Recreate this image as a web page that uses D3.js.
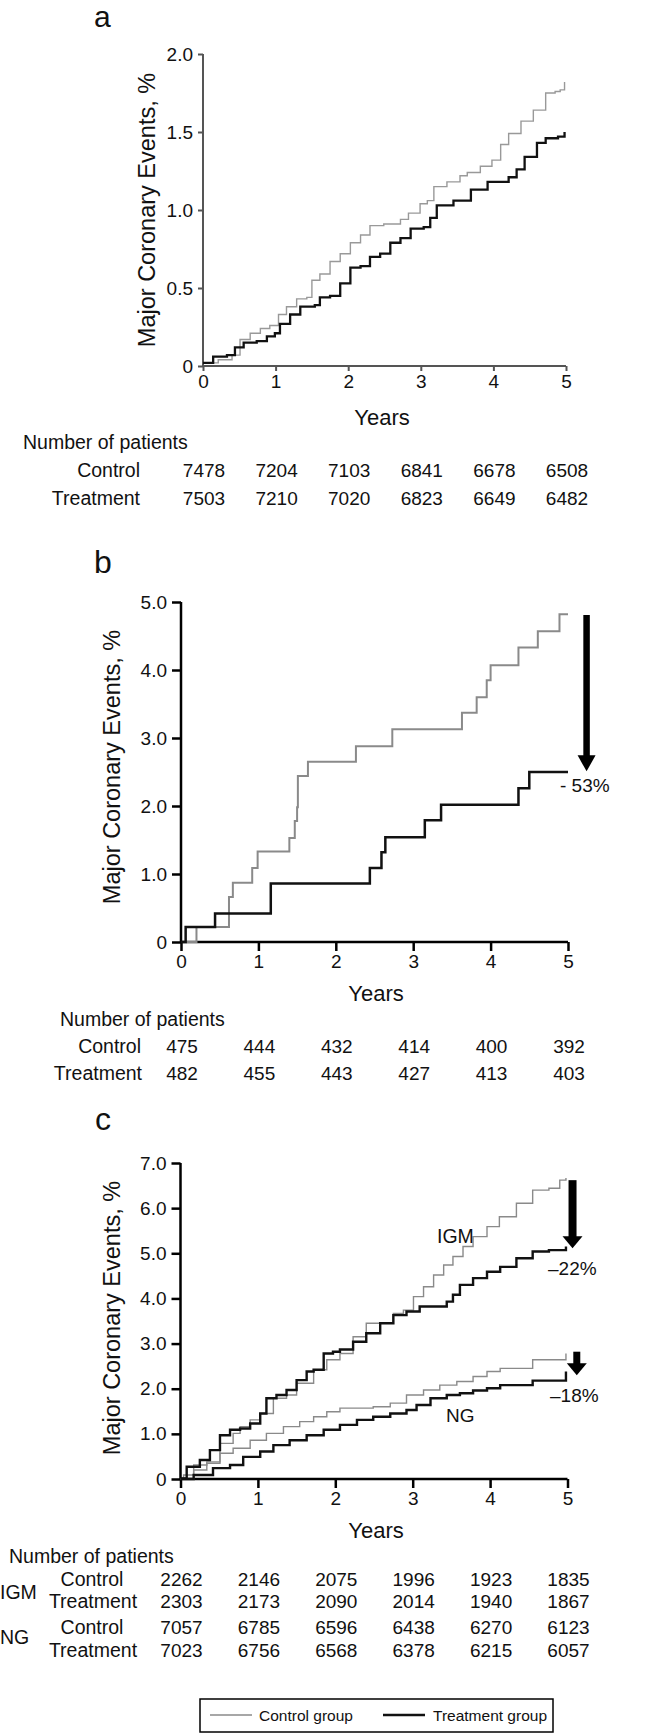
<!DOCTYPE html>
<html>
<head>
<meta charset="utf-8">
<script src="https://cdn.jsdelivr.net/npm/d3@7"></script>
<style>
  html, body { margin: 0; padding: 0; background: #fff; }
  svg { display: block; }
  text { font-family: "Liberation Sans", Arial, sans-serif; fill: #111; }
</style>
</head>
<body>
<svg id="chart" width="646" height="1735"></svg>
<script>
// ---------------- DATA ----------------
const yearTicks = [0, 1, 2, 3, 4, 5];

// Panel a
const aYTicks = [0, 0.5, 1.0, 1.5, 2.0];
const aControl = [[0,0.02],[0.21,0.04],[0.4,0.07],[0.51,0.17],[0.65,0.21],[0.79,0.24],[0.92,0.26],[1.04,0.33],[1.15,0.38],[1.29,0.43],[1.43,0.44],[1.5,0.55],[1.61,0.59],[1.75,0.67],[1.89,0.72],[2.03,0.79],[2.17,0.84],[2.3,0.9],[2.49,0.91],[2.72,0.94],[2.83,0.98],[2.99,1.04],[3.09,1.06],[3.18,1.15],[3.36,1.18],[3.54,1.22],[3.64,1.24],[3.82,1.28],[3.98,1.32],[4.1,1.42],[4.21,1.49],[4.38,1.57],[4.55,1.64],[4.72,1.75],[4.85,1.76],[4.92,1.77],[4.98,1.82]];
const aTreat = [[0,0.02],[0.14,0.06],[0.33,0.07],[0.44,0.12],[0.56,0.15],[0.74,0.16],[0.88,0.19],[0.99,0.21],[1.06,0.27],[1.2,0.33],[1.34,0.38],[1.54,0.39],[1.61,0.44],[1.75,0.45],[1.89,0.53],[2.03,0.63],[2.17,0.64],[2.3,0.7],[2.44,0.72],[2.58,0.79],[2.72,0.82],[2.86,0.88],[3.04,0.89],[3.13,0.95],[3.22,1.03],[3.36,1.03],[3.45,1.06],[3.52,1.06],[3.69,1.13],[3.92,1.18],[4.21,1.21],[4.32,1.26],[4.43,1.34],[4.6,1.43],[4.72,1.46],[4.89,1.47],[4.98,1.5]];
const aPatientsControl = [7478, 7204, 7103, 6841, 6678, 6508];
const aPatientsTreat = [7503, 7210, 7020, 6823, 6649, 6482];

// Panel b
const bYTicks = [0, 1, 2, 3, 4, 5];
const bControl = [[0,0],[0.2,0.22],[0.62,0.66],[0.67,0.87],[0.92,1.09],[0.99,1.33],[1.40,1.53],[1.47,1.78],[1.50,1.98],[1.51,2.44],[1.64,2.65],[2.26,2.88],[2.73,3.13],[3.63,3.37],[3.82,3.60],[3.95,3.85],[4.0,4.07],[4.36,4.33],[4.61,4.57],[4.89,4.82],[5.0,4.82]];
const bTreat = [[0,0],[0.06,0.22],[0.44,0.42],[1.16,0.86],[2.44,1.09],[2.59,1.32],[2.64,1.54],[3.15,1.79],[3.36,2.02],[4.36,2.26],[4.50,2.50],[5.0,2.50]];
const bPatientsControl = [475, 444, 432, 414, 400, 392];
const bPatientsTreat = [482, 455, 443, 427, 413, 403];
const bReduction = "- 53%";

// Panel c
const cYTicks = [0, 1, 2, 3, 4, 5, 6, 7];
const cIgmControl = [[0,0],[0.04,0.09],[0.17,0.31],[0.34,0.38],[0.51,0.79],[0.68,1.01],[0.77,1.16],[0.9,1.31],[1.03,1.45],[1.2,1.79],[1.37,1.86],[1.5,2.12],[1.72,2.42],[1.89,2.64],[2.06,2.78],[2.23,3.15],[2.4,3.45],[2.58,3.45],[2.75,3.67],[2.88,3.74],[3.01,4.04],[3.14,4.26],[3.27,4.52],[3.4,4.74],[3.52,4.93],[3.65,5.15],[3.78,5.37],[3.96,5.59],[4.12,5.81],[4.34,6.11],[4.55,6.40],[4.76,6.44],[4.9,6.62],[4.98,6.67]];
const cIgmTreat = [[0,0.01],[0.08,0.27],[0.25,0.42],[0.38,0.64],[0.51,0.97],[0.64,1.09],[0.77,1.12],[0.9,1.23],[1.03,1.45],[1.11,1.79],[1.24,1.86],[1.37,1.97],[1.5,2.19],[1.63,2.38],[1.72,2.42],[1.85,2.78],[1.97,2.82],[2.06,2.87],[2.23,3.04],[2.4,3.23],[2.58,3.45],[2.75,3.63],[2.92,3.71],[3.09,3.82],[3.27,3.82],[3.44,3.93],[3.52,4.08],[3.61,4.3],[3.78,4.45],[3.96,4.59],[4.13,4.7],[4.34,4.89],[4.55,5.04],[4.76,5.07],[4.98,5.15]];
const cNgControl = [[0,0],[0.17,0.2],[0.34,0.35],[0.51,0.57],[0.68,0.68],[0.9,0.86],[1.11,1.01],[1.33,1.16],[1.54,1.27],[1.72,1.38],[1.89,1.49],[2.06,1.57],[2.28,1.57],[2.49,1.6],[2.71,1.68],[2.92,1.86],[3.14,1.97],[3.35,2.08],[3.57,2.16],[3.78,2.27],[3.96,2.38],[4.13,2.45],[4.55,2.64],[4.98,2.78]];
const cNgTreat = [[0,0],[0.17,0.09],[0.42,0.24],[0.64,0.31],[0.81,0.49],[1.03,0.61],[1.2,0.75],[1.41,0.86],[1.63,0.97],[1.85,1.09],[2.06,1.2],[2.28,1.31],[2.49,1.38],[2.71,1.45],[2.92,1.53],[3.05,1.64],[3.23,1.79],[3.44,1.86],[3.61,1.9],[3.78,1.96],[3.96,2.01],[4.13,2.08],[4.55,2.18],[4.98,2.38]];
const cIgmPatientsControl = [2262, 2146, 2075, 1996, 1923, 1835];
const cIgmPatientsTreat = [2303, 2173, 2090, 2014, 1940, 1867];
const cNgPatientsControl = [7057, 6785, 6596, 6438, 6270, 6123];
const cNgPatientsTreat = [7023, 6756, 6568, 6378, 6215, 6057];
const cIgmReduction = "\u201322%";
const cNgReduction = "\u201318%";

const legendLabels = ["Control group", "Treatment group"];

// ---------------- DRAWING ----------------
const svg = d3.select("#chart");
const GRAY = "#8a8a8a";
const BLACK = "#111";

function fmtTick(d) { return d === 0 ? "0" : d.toFixed(1); }

function drawPanel(p) {
  const g = svg.append("g");
  const x = d3.scaleLinear().domain([0, 5]).range(p.xr);
  const y = d3.scaleLinear().domain(p.yd).range(p.yr);

  // panel letter
  g.append("text").attr("x", p.letterX).attr("y", p.letterY)
    .attr("font-size", p.letterSize).text(p.letter);

  // axes
  const yAxis = d3.axisLeft(y).tickValues(p.yTicks).tickFormat(fmtTick)
    .tickSize(p.tickLen).tickPadding(p.tickPad);
  const xAxis = d3.axisBottom(x).tickValues(yearTicks).tickFormat(d3.format("d"))
    .tickSize(p.tickLen).tickPadding(4);

  const ya = g.append("g").attr("transform", `translate(${p.xr[0]},0)`).call(yAxis);
  const xa = g.append("g").attr("transform", `translate(0,${p.yr[0]})`).call(xAxis);
  [ya, xa].forEach(a => {
    a.select(".domain").attr("stroke", p.axisColor).attr("stroke-width", p.axisWidth);
    a.selectAll(".tick line").attr("stroke", p.axisColor).attr("stroke-width", p.axisWidth);
    a.selectAll("text").attr("font-size", 19).attr("fill", "#111")
      .attr("font-family", '"Liberation Sans", Arial, sans-serif');
  });
  ya.select(".domain").attr("d", `M0,${p.yr[0]}V${p.yr[1]}`);
  xa.select(".domain").attr("d", `M${p.xr[0]},0H${p.xr[1]}`);

  // y title
  g.append("text")
    .attr("transform", `translate(${p.yTitleX},${p.yTitleY}) rotate(-90)`)
    .attr("text-anchor", "middle").attr("dominant-baseline", "central")
    .attr("font-size", 23.5).text("Major Coronary Events, %");

  // x title
  g.append("text").attr("x", p.yearsX).attr("y", p.yr[0] + 59)
    .attr("text-anchor", "middle").attr("font-size", 22).text("Years");

  // curves
  const line = d3.line().x(d => x(d[0])).y(d => y(d[1])).curve(d3.curveStepAfter);
  p.series.forEach(s => {
    g.append("path").datum(s.data).attr("d", line)
      .attr("fill", "none").attr("stroke", s.color).attr("stroke-width", s.width)
      .attr("stroke-linejoin", "miter");
  });

  // arrows
  (p.arrows || []).forEach(a => {
    const ax = x(a.year), y1 = y(a.from), y2 = y(a.to);
    const hl = a.headLen, hw = a.headW;
    g.append("line").attr("x1", ax).attr("x2", ax).attr("y1", y1).attr("y2", y2 - hl + 1)
      .attr("stroke", "#000").attr("stroke-width", a.w);
    g.append("path").attr("d", `M${ax - hw / 2},${y2 - hl}L${ax + hw / 2},${y2 - hl}L${ax},${y2}Z`)
      .attr("fill", "#000");
    g.append("text").attr("x", a.labelX).attr("y", a.labelY)
      .attr("font-size", 19).text(a.label);
  });

  // curve labels
  (p.curveLabels || []).forEach(c => {
    g.append("text").attr("x", c.x).attr("y", c.y).attr("font-size", c.size).text(c.text);
  });

  // number at risk table
  g.append("text").attr("x", p.nopX).attr("y", p.tableY[0])
    .attr("font-size", 19.5).text("Number of patients");
  p.rows.forEach((r, i) => {
    const ty = p.tableY[i + 1];
    g.append("text").attr("x", r.lx).attr("y", ty).attr("text-anchor", r.anchor)
      .attr("font-size", 19.5).text(r.label);
    g.selectAll(null).data(r.values).enter().append("text")
      .attr("x", (d, k) => x(yearTicks[k]) + 1)
      .attr("y", ty).attr("text-anchor", "middle").attr("font-size", 19)
      .text(d => d);
  });
  (p.groupLabels || []).forEach(gl => {
    g.append("text").attr("x", gl.x).attr("y", gl.y).attr("font-size", 19.5).text(gl.text);
  });
}

// Panel a
drawPanel({
  letter: "a", letterX: 94, letterY: 27, letterSize: 30,
  xr: [203, 566], yd: [0, 2], yr: [366, 54], yTicks: aYTicks,
  tickLen: 5, tickPad: 5, axisColor: "#555", axisWidth: 2,
  yTitleX: 147, yTitleY: 210, yearsX: 382,
  series: [
    { data: aControl, color: "#999", width: 1.4 },
    { data: aTreat, color: BLACK, width: 2.3 }
  ],
  nopX: 23, tableY: [449, 477, 505],
  rows: [
    { label: "Control", lx: 140, anchor: "end", values: aPatientsControl },
    { label: "Treatment", lx: 140, anchor: "end", values: aPatientsTreat }
  ]
});

// Panel b
drawPanel({
  letter: "b", letterX: 94, letterY: 573, letterSize: 32,
  xr: [181, 568], yd: [0, 5], yr: [942, 602], yTicks: bYTicks,
  tickLen: 9, tickPad: 5, axisColor: "#000", axisWidth: 2.5,
  yTitleX: 112, yTitleY: 767, yearsX: 376,
  series: [
    { data: bControl, color: GRAY, width: 2 },
    { data: bTreat, color: BLACK, width: 2.5 }
  ],
  arrows: [
    { year: 5.24, from: 4.81, to: 2.51, w: 6.5, headLen: 16, headW: 18, label: bReduction, labelX: 560, labelY: 792 }
  ],
  nopX: 60, tableY: [1026, 1053, 1080],
  rows: [
    { label: "Control", lx: 141, anchor: "end", values: bPatientsControl },
    { label: "Treatment", lx: 142, anchor: "end", values: bPatientsTreat }
  ]
});

// Panel c
drawPanel({
  letter: "c", letterX: 95, letterY: 1130, letterSize: 32,
  xr: [180.5, 567.5], yd: [0, 7], yr: [1479, 1163], yTicks: cYTicks,
  tickLen: 9, tickPad: 5, axisColor: "#000", axisWidth: 2.5,
  yTitleX: 112, yTitleY: 1318, yearsX: 376,
  series: [
    { data: cIgmControl, color: GRAY, width: 1.4 },
    { data: cNgControl, color: GRAY, width: 1.4 },
    { data: cIgmTreat, color: BLACK, width: 2.4 },
    { data: cNgTreat, color: BLACK, width: 2.4 }
  ],
  arrows: [
    { year: 5.065, from: 6.62, to: 5.11, w: 8, headLen: 12, headW: 20, label: cIgmReduction, labelX: 548, labelY: 1275 },
    { year: 5.12, from: 2.82, to: 2.30, w: 7, headLen: 12, headW: 20, label: cNgReduction, labelX: 550, labelY: 1402 }
  ],
  curveLabels: [
    { text: "IGM", x: 437, y: 1243, size: 19.5 },
    { text: "NG", x: 446, y: 1422, size: 19 }
  ],
  nopX: 9, tableY: [1563, 1585.5, 1608, 1634, 1656.5],
  rows: [
    { label: "Control", lx: 92, anchor: "middle", values: cIgmPatientsControl },
    { label: "Treatment", lx: 93, anchor: "middle", values: cIgmPatientsTreat },
    { label: "Control", lx: 92, anchor: "middle", values: cNgPatientsControl },
    { label: "Treatment", lx: 93, anchor: "middle", values: cNgPatientsTreat }
  ],
  groupLabels: [
    { text: "IGM", x: 0, y: 1599 },
    { text: "NG", x: 0, y: 1644 }
  ]
});

// Legend
const lg = svg.append("g");
lg.append("rect").attr("x", 200).attr("y", 1699).attr("width", 353).attr("height", 33)
  .attr("fill", "#fff").attr("stroke", "#000").attr("stroke-width", 1.5);
const legendItems = [
  { label: legendLabels[0], color: GRAY, width: 1.4, x1: 210, x2: 252, tx: 259 },
  { label: legendLabels[1], color: BLACK, width: 2.6, x1: 383, x2: 425, tx: 433 }
];
legendItems.forEach(it => {
  lg.append("line").attr("x1", it.x1).attr("x2", it.x2).attr("y1", 1715).attr("y2", 1715)
    .attr("stroke", it.color).attr("stroke-width", it.width);
  lg.append("text").attr("x", it.tx).attr("y", 1721).attr("font-size", 15.5).text(it.label);
});
</script>
</body>
</html>
